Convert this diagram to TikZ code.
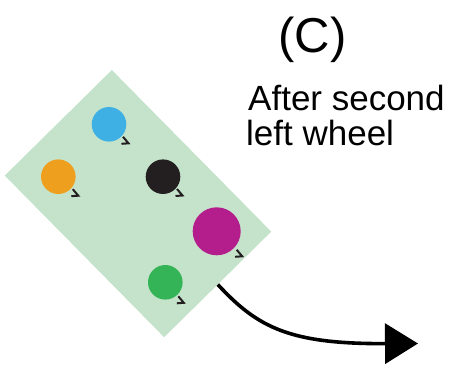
\documentclass[tikz,border=0pt]{standalone}
\usepackage{fontspec}
\setmainfont{Liberation Sans}
\usetikzlibrary{arrows.meta,calc}
\definecolor{plategreen}{RGB}{197,227,202}
\definecolor{cblue}{RGB}{62,176,228}
\definecolor{corange}{RGB}{239,159,30}
\definecolor{cblack}{RGB}{35,31,32}
\definecolor{cmagenta}{RGB}{180,30,140}
\definecolor{cgreen}{RGB}{52,180,86}
\begin{document}
\begin{tikzpicture}[x=1pt,y=-1pt,
  dot/.style={circle,inner sep=0pt,minimum size=34.6pt},
  bigdot/.style={circle,inner sep=0pt,minimum size=48pt},
  chev/.style={line width=2pt,draw=cblack,line join=miter},
  plate/.style={rectangle,fill=plategreen,inner sep=0pt,minimum width=227pt,minimum height=150.4pt,rotate=-45.4},
  move/.style={line width=3.6pt,draw=black,-{Triangle[length=33pt,width=40pt]}},
  lbl/.style={inner sep=0pt,font=\fontsize{35}{35}\selectfont}
]
\path[use as bounding box] (0,0) rectangle (451,367);
\node[plate] (plate) at (138,203.6) {};
\node[dot,fill=cblue] (b) at (109,124.3) {};
\node[dot,fill=corange] (o) at (58.3,176.7) {};
\node[dot,fill=cblack] (k) at (163,176.7) {};
\node[bigdot,fill=cmagenta] (m) at (216.7,231.3) {};
\node[dot,fill=cgreen] (g) at (165.3,282.3) {};
\foreach \c/\dx/\dy in {b/19.5/19, o/20/19, k/19.5/18.8, m/25.5/25, g/18.5/20.5}{
  \draw[chev] ($(\c)+(\dx,\dy)+(-7,0.5)$) -- ($(\c)+(\dx,\dy)$) -- ($(\c)+(\dx,\dy)+(-5.5,-6.5)$);
}
\coordinate (end) at (418,343.5);
\draw[move] (plate.east) .. controls (258,328) and (290,344) .. (end);
\node[anchor=base,inner sep=0pt,font=\fontsize{49}{49}\selectfont] (title) at (312.5,52) {(C)};
\node[lbl,anchor=base west] (cap1) at (248,110) {After second};
\node[lbl,anchor=base west] (cap2) at (246,145) {left wheel};
\end{tikzpicture}
\end{document}
